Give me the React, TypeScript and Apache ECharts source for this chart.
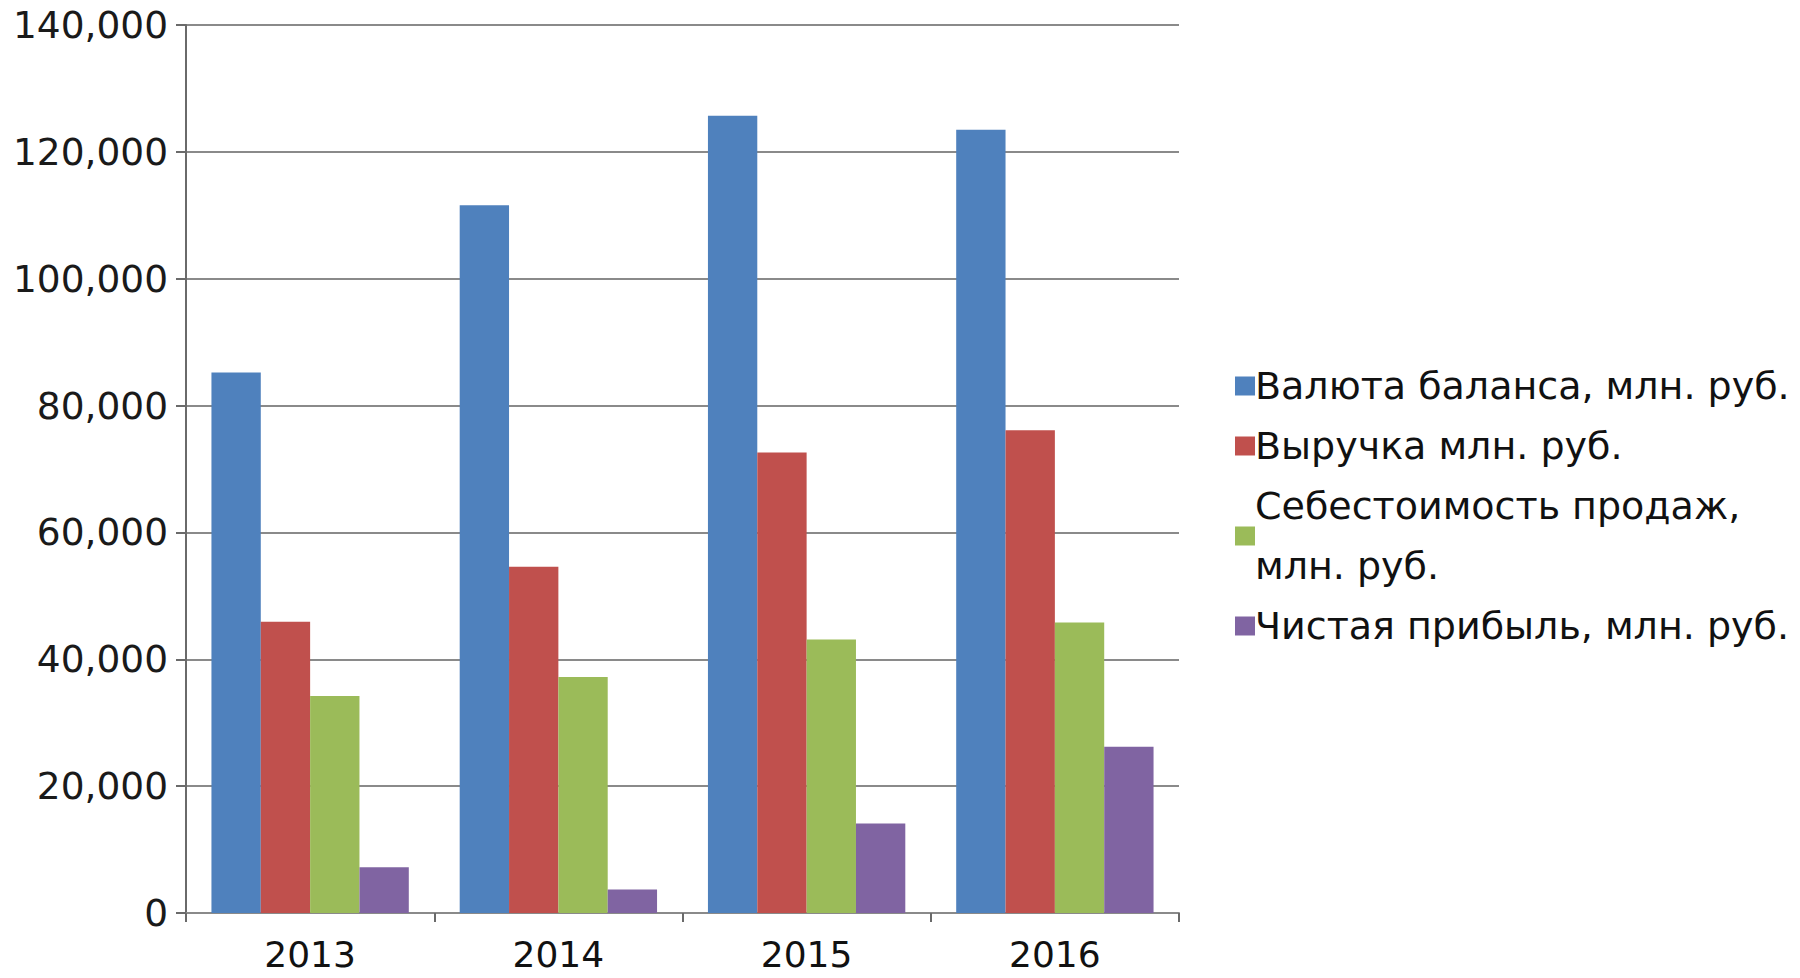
import React, { useEffect, useRef } from "react";
import * as echarts from "echarts";

const years = ["2013", "2014", "2015", "2016"];
const seriesNames = [
  "Валюта баланса, млн. руб.",
  "Выручка млн. руб.",
  "Себестоимость продаж,\nмлн. руб.",
  "Чистая прибыль, млн. руб.",
];
const balance = [85200, 111600, 125700, 123500];
const revenue = [45900, 54600, 72600, 76100];
const costOfSales = [34200, 37200, 43100, 45800];
const netProfit = [7200, 3700, 14100, 26200];
const colors = ["#4F81BD", "#C0504D", "#9BBB59", "#8064A2"];

const fmt = (v: number) => String(v).replace(/\B(?=(\d{3})+(?!\d))/g, ",");

export default function App() {
  const ref = useRef<HTMLDivElement>(null);
  useEffect(() => {
    if (!ref.current) return;
    const chart = echarts.init(ref.current, undefined, { renderer: "svg" });
    const data = [balance, revenue, costOfSales, netProfit];
    chart.setOption({
      animation: false,
      backgroundColor: "#ffffff",
      textStyle: { fontFamily: "DejaVu Sans" },
      grid: { left: 186, right: 621, top: 25, bottom: 65, containLabel: false },
      legend: {
        orient: "vertical",
        left: 1230,
        top: 351,
        itemGap: 0,
        itemWidth: 20,
        itemHeight: 19,
        icon: "rect",
        textStyle: {
          fontFamily: "DejaVu Sans",
          fontSize: 38,
          lineHeight: 60,
          color: "#111111",
          padding: [0, 0, 0, -5],
        },
        data: seriesNames,
      },
      xAxis: {
        type: "category",
        data: years,
        axisLine: { show: true, lineStyle: { color: "#8a8a8a", width: 2 } },
        axisTick: { show: true, alignWithLabel: false, length: 9, lineStyle: { color: "#6a6a6a", width: 2 } },
        axisLabel: { color: "#111111", fontSize: 36, lineHeight: 36, margin: 23, fontFamily: "DejaVu Sans" },
      },
      yAxis: {
        type: "value",
        min: 0,
        max: 140000,
        interval: 20000,
        axisLine: { show: true, lineStyle: { color: "#6a6a6a", width: 2 } },
        axisTick: { show: true, length: 10, lineStyle: { color: "#6a6a6a", width: 2 } },
        splitLine: { show: true, lineStyle: { color: "#8a8a8a", width: 2 } },
        axisLabel: { color: "#1a1a1a", fontSize: 37.5, margin: 18, formatter: (v: number) => fmt(v) },
      },
      series: seriesNames.map((name, i) => ({
        name,
        type: "bar",
        data: data[i],
        barGap: "0%",
        barCategoryGap: "20.5%",
        itemStyle: { color: colors[i] },
      })),
    });
    return () => chart.dispose();
  }, []);
  return (
    <div
      ref={ref}
      style={{ position: "absolute", left: 0, top: 0, width: 1800, height: 978, background: "#fff" }}
    />
  );
}
